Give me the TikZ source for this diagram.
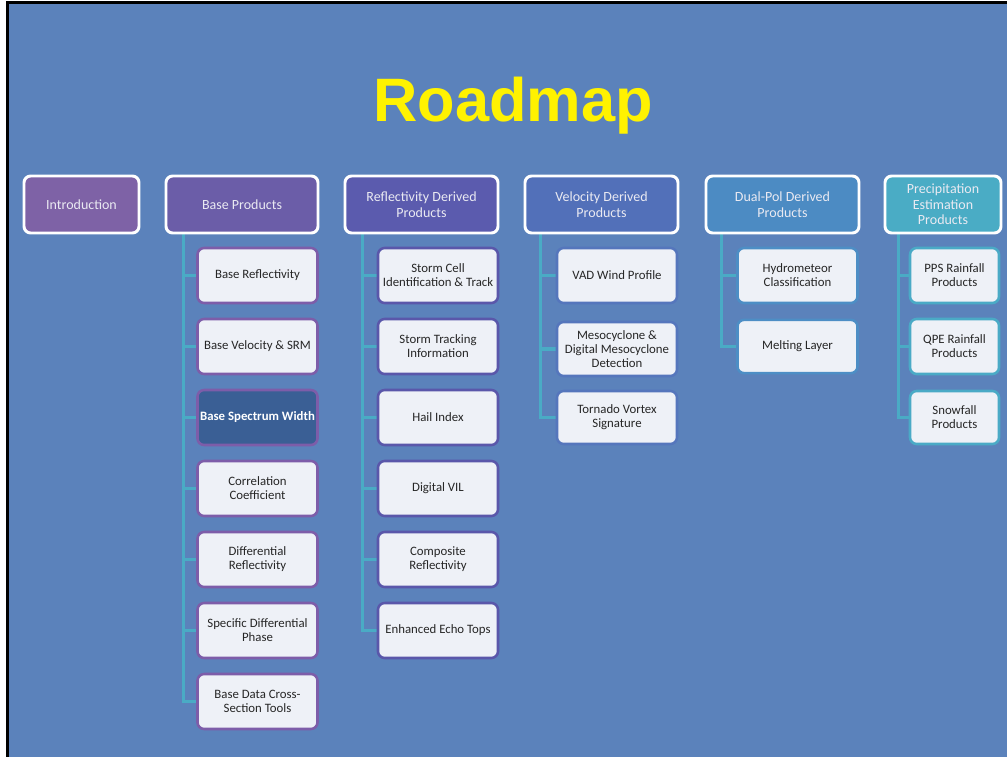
\documentclass[tikz,border=0pt]{standalone}
\usepackage{fontspec}
\setmainfont{Carlito}
\newfontfamily\titlefont{Liberation Sans}
\usetikzlibrary{backgrounds}
\definecolor{bgblue}{HTML}{5B82BB}
\definecolor{cIntro}{HTML}{7E62A6}
\definecolor{cBase}{HTML}{6B5DA8}
\definecolor{cRefl}{HTML}{5B5BAE}
\definecolor{cVel}{HTML}{5270B9}
\definecolor{cDual}{HTML}{4C8BC3}
\definecolor{cPrec}{HTML}{4AACC5}
\definecolor{bBase}{HTML}{7D5DA9}
\definecolor{bRefl}{HTML}{5A57AA}
\definecolor{bVel}{HTML}{5576BC}
\definecolor{bDual}{HTML}{4D8EC5}
\definecolor{bPrec}{HTML}{4AAAC6}
\definecolor{childfill}{HTML}{EEF1F7}
\definecolor{hilite}{HTML}{3A5F95}
\definecolor{conncol}{HTML}{4AABC5}
\definecolor{headtext}{HTML}{EAEAF2}
\definecolor{childtext}{HTML}{262626}
\begin{document}
\begin{tikzpicture}[x=0.75pt,y=-0.75pt,
  head/.style={draw=white, line width=2.2pt, rounded corners=5pt, inner sep=0pt,
    minimum height=42.75pt, text=headtext, align=center,
    font=\fontsize{10.5}{12}\selectfont},
  child/.style={draw=#1, line width=1.9pt, fill=childfill, rounded corners=5pt, inner sep=0pt,
    minimum width=90pt, minimum height=41.25pt, text=childtext, align=center,
    font=\fontsize{9.6}{10.5}\selectfont},
  conn/.style={draw=conncol, line width=2.3pt},
  title/.style={text=yellow, font=\titlefont\bfseries\fontsize{46}{50}\selectfont, inner sep=0pt}
]
\useasboundingbox (0,0) rectangle (1007,757);
\begin{pgfonlayer}{background}
  \fill[white] (0,0) rectangle (1007,757);
  \fill[bgblue] (8,3) rectangle (1007,757);
  \draw[black, line width=2.4pt] (7.5,757) -- (7.5,2.5) -- (1007,2.5);
\end{pgfonlayer}

\node[title, anchor=base] (t) at (513,121) {Roadmap};

% headers
\node[head, fill=cIntro, minimum width=86.25pt] (intro) at (81.5,204.5) {Introduction};
\node[head, fill=cBase, minimum width=114pt] (base) at (242,204.5) {Base Products};
\node[head, fill=cRefl, minimum width=114.75pt] (refl) at (421.5,204.5) {Reflectivity Derived\\Products};
\node[head, fill=cVel, minimum width=114.75pt] (vel) at (601.5,204.5) {Velocity Derived\\Products};
\node[head, fill=cDual, minimum width=114.75pt] (dual) at (782.5,204.5) {Dual-Pol Derived\\Products};
\node[head, fill=cPrec, minimum width=87pt, font=\fontsize{10.5}{11.6}\selectfont] (prec) at (943,204.5) {Precipitation\\Estimation\\Products};

% base children
\node[child=bBase] (b1) at (257.5,275.5) {Base Reflectivity};
\node[child=bBase] (b2) at (257.5,346.5) {Base Velocity \& SRM};
\node[child=bBase, fill=hilite, text=white, font=\bfseries\fontsize{9.6}{10.5}\selectfont] (b3) at (257.5,417.5) {Base Spectrum Width};
\node[child=bBase] (b4) at (257.5,488.5) {Correlation\\Coefficient};
\node[child=bBase] (b5) at (257.5,559.5) {Differential\\Reflectivity};
\node[child=bBase] (b6) at (257.5,630.5) {Specific Differential\\Phase};
\node[child=bBase] (b7) at (257.5,701.5) {Base Data Cross-\\Section Tools};

% reflectivity children
\node[child=bRefl] (r1) at (438,275.5) {Storm Cell\\Identification \& Track};
\node[child=bRefl] (r2) at (438,346.5) {Storm Tracking\\Information};
\node[child=bRefl] (r3) at (438,417.5) {Hail Index};
\node[child=bRefl] (r4) at (438,488.5) {Digital VIL};
\node[child=bRefl] (r5) at (438,559.5) {Composite\\Reflectivity};
\node[child=bRefl] (r6) at (438,630.5) {Enhanced Echo Tops};

% velocity children
\node[child=bVel] (v1) at (617,275.5) {VAD Wind Profile};
\node[child=bVel, minimum height=40.5pt] (v2) at (617,349) {Mesocyclone \&\\Digital Mesocyclone\\Detection};
\node[child=bVel, minimum height=39.75pt] (v3) at (617,417.5) {Tornado Vortex\\Signature};

% dual-pol children
\node[child=bDual] (d1) at (797.5,275.5) {Hydrometeor\\Classification};
\node[child=bDual, minimum height=40pt] (d2) at (797.5,346.5) {Melting Layer};

% precipitation children
\node[child=bPrec, minimum width=66.75pt] (p1) at (954.5,275.5) {PPS Rainfall\\Products};
\node[child=bPrec, minimum width=66.75pt] (p2) at (954.5,346.5) {QPE Rainfall\\Products};
\node[child=bPrec, minimum width=66.75pt, minimum height=39.75pt] (p3) at (954.5,417.5) {Snowfall\\Products};

% connectors
\begin{pgfonlayer}{background}
  \foreach \c in {b1,b2,b3,b4,b5,b6,b7}
    \draw[conn] ([xshift=14pt]base.south west) |- (\c.west);
  \foreach \c in {r1,r2,r3,r4,r5,r6}
    \draw[conn] ([xshift=14pt]refl.south west) |- (\c.west);
  \foreach \c in {v1,v2,v3}
    \draw[conn] ([xshift=13pt]vel.south west) |- (\c.west);
  \foreach \c in {d1,d2}
    \draw[conn] ([xshift=13pt]dual.south west) |- (\c.west);
  \foreach \c in {p1,p2,p3}
    \draw[conn] ([xshift=11pt]prec.south west) |- (\c.west);
\end{pgfonlayer}
\end{tikzpicture}
\end{document}
